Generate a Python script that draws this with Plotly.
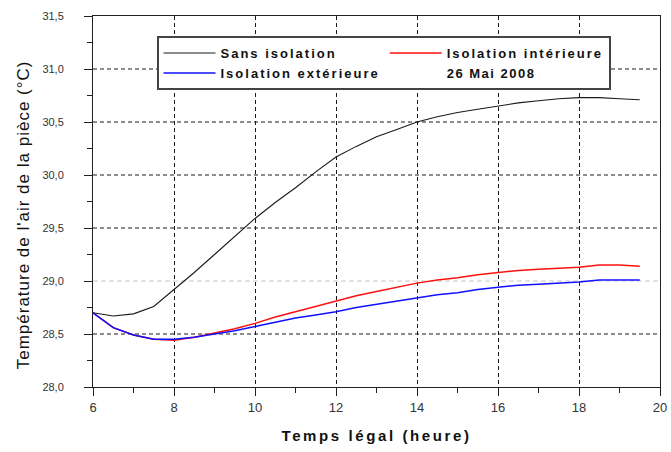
import plotly.graph_objects as go

# Heures (temps légal) et températures de l'air de la pièce, 26 mai 2008
heures = [6.0, 6.5, 7.0, 7.5, 8.0, 8.5, 9.0, 9.5, 10.0, 10.5, 11.0, 11.5, 12.0, 12.5,
          13.0, 13.5, 14.0, 14.5, 15.0, 15.5, 16.0, 16.5, 17.0, 17.5, 18.0, 18.5, 19.0, 19.5]

sans_isolation = [28.70, 28.67, 28.69, 28.76, 28.92, 29.08, 29.25, 29.42, 29.59, 29.74,
                  29.88, 30.03, 30.17, 30.27, 30.36, 30.43, 30.50, 30.55, 30.59, 30.62,
                  30.65, 30.68, 30.70, 30.72, 30.73, 30.73, 30.72, 30.71]

isolation_interieure = [28.70, 28.56, 28.49, 28.45, 28.44, 28.47, 28.51, 28.55, 28.60, 28.66,
                        28.71, 28.76, 28.81, 28.86, 28.90, 28.94, 28.98, 29.01, 29.03, 29.06,
                        29.08, 29.10, 29.11, 29.12, 29.13, 29.15, 29.15, 29.14]

isolation_exterieure = [28.70, 28.56, 28.49, 28.45, 28.45, 28.47, 28.50, 28.53, 28.57, 28.61,
                        28.65, 28.68, 28.71, 28.75, 28.78, 28.81, 28.84, 28.87, 28.89, 28.92,
                        28.94, 28.96, 28.97, 28.98, 28.99, 29.01, 29.01, 29.01]

x_ticks = [6, 8, 10, 12, 14, 16, 18, 20]
y_ticks = [28.0, 28.5, 29.0, 29.5, 30.0, 30.5, 31.0, 31.5]
y_grid_dark = [28.5, 29.5, 30.0, 30.5, 31.0]
y_grid_light = [29.0]

FONT = "Liberation Sans"


def spaced(text, px):
    return f'<span style="letter-spacing:{px}px">{text}</span>'


fig = go.Figure()
fig.add_trace(go.Scatter(x=heures, y=sans_isolation, mode="lines",
                         name=spaced("Sans isolation", 2),
                         line=dict(color="#1a1a1a", width=1.1)))
fig.add_trace(go.Scatter(x=heures, y=isolation_interieure, mode="lines",
                         name=spaced("Isolation intérieure", 2),
                         line=dict(color="#ff1010", width=1.5)))
fig.add_trace(go.Scatter(x=heures, y=isolation_exterieure, mode="lines",
                         name=spaced("Isolation extérieure", 2),
                         line=dict(color="#1010ff", width=1.5)))
# date shown as a legend entry without a line sample
fig.add_trace(go.Scatter(x=[None], y=[None], mode="lines",
                         name=spaced("26 Mai 2008", 1.5),
                         line=dict(color="rgba(0,0,0,0)", width=1)))

shapes = []
for v in y_grid_dark:
    shapes.append(dict(type="line", xref="paper", yref="y", x0=0, x1=1, y0=v, y1=v,
                       line=dict(color="#1a1a1a", width=1, dash="4px,3px"), layer="below"))
for v in y_grid_light:
    shapes.append(dict(type="line", xref="paper", yref="y", x0=0, x1=1, y0=v, y1=v,
                       line=dict(color="#c8c8c8", width=1, dash="5px,3px"), layer="below"))

fig.update_layout(
    width=671, height=452,
    margin=dict(l=93, r=11, t=16, b=65),
    paper_bgcolor="white", plot_bgcolor="white",
    separators=",.",
    shapes=shapes,
    font=dict(family=FONT, color="#222222"),
    legend=dict(
        orientation="h", x=0.112, y=0.946, xanchor="left", yanchor="top",
        bgcolor="white", bordercolor="#444444", borderwidth=2,
        font=dict(family=FONT, size=13, color="#111111", weight="bold"),
        itemwidth=52, tracegroupgap=0,
    ),
    annotations=[
        dict(text=spaced("Température de l'air de la pièce (°C)", 1),
             textangle=-90, xref="paper", yref="paper", x=-0.122, y=0.465,
             xanchor="center", yanchor="middle", showarrow=False,
             font=dict(family=FONT, size=17, color="#111111")),
    ],
    xaxis=dict(
        range=[6, 20], tickvals=x_ticks, ticks="outside", ticklen=8, tickwidth=1,
        tickcolor="#222222", showline=True, linecolor="#222222", linewidth=1, mirror=True,
        showgrid=True, gridcolor="#1a1a1a", griddash="4px,3px", gridwidth=1,
        zeroline=False, automargin=False,
        minor=dict(dtick=1, ticks="outside", ticklen=5, tickcolor="#222222", showgrid=False),
        tickfont=dict(family=FONT, size=13, color="#333333"),
        title=dict(text=spaced("Temps légal (heure)", 2.6), standoff=16,
                   font=dict(family=FONT, size=15, color="#111111", weight="bold")),
    ),
    yaxis=dict(
        range=[28.0, 31.5], tickvals=y_ticks, tickformat=".1f", ticks="outside", ticklen=8,
        tickwidth=1, tickcolor="#222222", showline=True, linecolor="#222222", linewidth=1,
        mirror=True, showgrid=False, zeroline=False, automargin=False,
        ticklabelstandoff=18,
        minor=dict(dtick=0.25, ticks="outside", ticklen=5, tickcolor="#222222", showgrid=False),
        tickfont=dict(family=FONT, size=11, color="#333333"),
    ),
)

fig.write_html("out.html")
